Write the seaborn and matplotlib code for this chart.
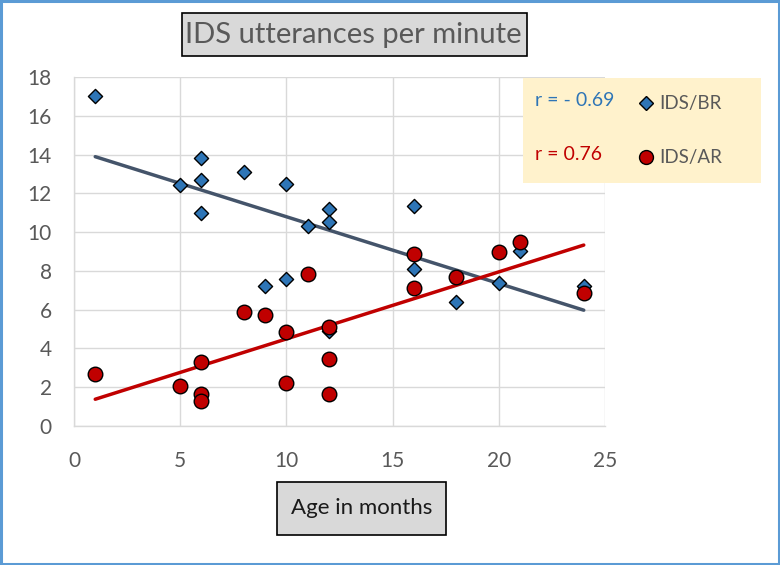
import numpy as np
import pandas as pd
import matplotlib
matplotlib.use("Agg")
import matplotlib.pyplot as plt
import seaborn as sns
from matplotlib.patches import Rectangle
from matplotlib.lines import Line2D

# ---- data ----
br_age = [1, 5, 6, 6, 6, 8, 9, 10, 10, 11, 12, 12, 12, 16, 16, 18, 20, 21, 24]
br_ids = [17.0, 12.45, 13.8, 12.7, 11.0, 13.1, 7.2, 12.5, 7.6, 10.3, 11.2, 10.5, 4.9, 11.35, 8.1, 6.4, 7.35, 9.05, 7.2]

ar_age = [1, 5, 6, 6, 6, 8, 9, 10, 10, 11, 12, 12, 12, 16, 16, 18, 20, 21, 24]
ar_ids = [2.7, 2.05, 3.3, 1.65, 1.3, 5.9, 5.75, 4.85, 2.2, 7.85, 5.1, 3.45, 1.65, 8.85, 7.1, 7.7, 9.0, 9.5, 6.85]

x_ticks = [0, 5, 10, 15, 20, 25]
y_ticks = [0, 2, 4, 6, 8, 10, 12, 14, 16, 18]
title_text = "IDS utterances per minute"
xlabel_text = "Age in months"
r_labels = ["r = - 0.69", "r = 0.76"]
series_names = ["IDS/BR", "IDS/AR"]

BLUE = "#2E75B6"
RED = "#C00000"
BLUE_LINE = "#44546A"
GRAY_TXT = "#595959"

sns.set_theme(style="white")
plt.rcParams["font.family"] = ["Lato", "DejaVu Sans"]

W, H = 780, 565
fig = plt.figure(figsize=(W / 100, H / 100), dpi=100)

def fx(px):
    return px / W

def fy(py):
    return 1 - py / H

ax = fig.add_axes([fx(74), fy(426), fx(605) - fx(74), fy(77) - fy(426)])

br = pd.DataFrame({"age": br_age, "ids": br_ids})
ar = pd.DataFrame({"age": ar_age, "ids": ar_ids})

# regression lines
sns.regplot(data=br, x="age", y="ids", scatter=False, ci=None, truncate=True,
            line_kws=dict(color=BLUE_LINE, lw=2.5, zorder=2), ax=ax)
sns.regplot(data=ar, x="age", y="ids", scatter=False, ci=None, truncate=True,
            line_kws=dict(color=RED, lw=2.5, zorder=2), ax=ax)

sns.scatterplot(data=br, x="age", y="ids", marker="D", s=52, color=BLUE,
                edgecolor="black", linewidth=1.0, zorder=3, ax=ax)
sns.scatterplot(data=ar, x="age", y="ids", marker="o", s=110, color=RED,
                edgecolor="black", linewidth=1.0, zorder=4, ax=ax)

ax.set_xlim(0, 25)
ax.set_ylim(0, 18)
ax.set_xticks(x_ticks)
ax.set_yticks(y_ticks)
ax.set_xticklabels([str(t) for t in x_ticks])
ax.set_yticklabels([str(t) for t in y_ticks])
ax.set_xlabel("")
ax.set_ylabel("")
ax.grid(True, color="#D9D9D9", lw=1.0)
ax.set_axisbelow(True)
for s in ["top", "right"]:
    ax.spines[s].set_visible(False)
for s in ["left", "bottom"]:
    ax.spines[s].set_color("#D9D9D9")
    ax.spines[s].set_linewidth(1.0)
ax.tick_params(axis="both", length=0, labelsize=15, labelcolor=GRAY_TXT)
ax.tick_params(axis="x", pad=18)
ax.tick_params(axis="y", pad=16)

# title box
fig.add_artist(Rectangle((fx(182), fy(56)), fx(527) - fx(182), fy(13) - fy(56),
                         transform=fig.transFigure, fc="#D9D9D9", ec="black", lw=1.2))
fig.text(fx(353), fy(35), title_text, ha="center", va="center",
         fontsize=21, color=GRAY_TXT)

# x label box
fig.add_artist(Rectangle((fx(277), fy(535)), fx(446) - fx(277), fy(482) - fy(535),
                         transform=fig.transFigure, fc="#D9D9D9", ec="black", lw=1.2))
fig.text(fx(361.5), fy(508), xlabel_text, ha="center", va="center",
         fontsize=16, color="#1a1a1a")

# legend box
fig.add_artist(Rectangle((fx(523), fy(183)), fx(761) - fx(523), fy(78) - fy(183),
                         transform=fig.transFigure, fc="#FFF2CC", ec="none", zorder=5))
fig.text(fx(535), fy(101), r_labels[0], ha="left", va="center", fontsize=14,
         color=BLUE, zorder=6)
fig.text(fx(535), fy(155), r_labels[1], ha="left", va="center", fontsize=14,
         color=RED, zorder=6)
fig.add_artist(Line2D([fx(646)], [fy(103)], marker="D", markersize=7, color=BLUE,
                      markeredgecolor="black", markeredgewidth=1.0, lw=0,
                      transform=fig.transFigure, zorder=6))
fig.add_artist(Line2D([fx(646)], [fy(157)], marker="o", markersize=10, color=RED,
                      markeredgecolor="black", markeredgewidth=1.0, lw=0,
                      transform=fig.transFigure, zorder=6))
fig.text(fx(659), fy(103), series_names[0], ha="left", va="center", fontsize=13.5,
         color=GRAY_TXT, zorder=6)
fig.text(fx(659), fy(157), series_names[1], ha="left", va="center", fontsize=13.5,
         color=GRAY_TXT, zorder=6)

# outer frame
fig.add_artist(Rectangle((0.0015, 0.002), 0.997, 0.996, transform=fig.transFigure,
                         fc="none", ec="#5B9BD5", lw=2.2))

fig.savefig("out.png", dpi=100)
